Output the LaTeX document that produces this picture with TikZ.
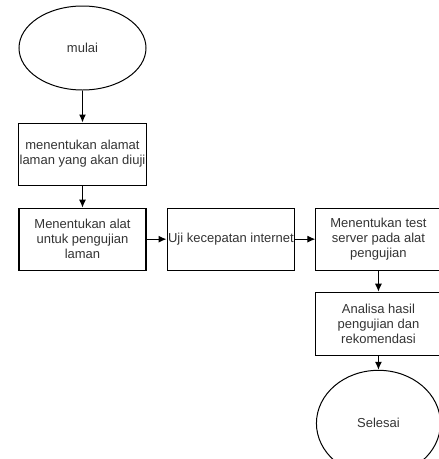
\documentclass[tikz,border=0pt]{standalone}
\usepackage{fontspec}
\setmainfont{Liberation Sans}
\usetikzlibrary{positioning,shapes.geometric,arrows.meta}

\begin{document}
\begin{tikzpicture}[x=1pt,y=-1pt]
\tikzstyle{term}=[ellipse, draw=black, line width=1pt, minimum width=127pt, minimum height=84pt, inner sep=0pt, font=\fontsize{13}{15}\selectfont, text=black!80]
\tikzstyle{proc}=[rectangle, draw=black, line width=1.1pt, minimum width=127pt, minimum height=62pt, inner sep=1pt, align=center, font=\fontsize{13}{15}\selectfont, text=black!80]
\tikzstyle{connect}=[-{Latex[length=8pt,width=7pt]}, line width=1.1pt]
  \useasboundingbox (0,0) rectangle (439,459);
  \node[term] (mulai) at (82.5,48) {mulai};
  \node[proc] (alamat) [below=32pt of mulai] {menentukan alamat\\laman yang akan diuji};
  \node[proc] (alat) [below=22pt of alamat] {Menentukan alat\\untuk pengujian\\laman};
  \node[proc] (uji) [right=20pt of alat] {Uji kecepatan internet};
  \node[proc, minimum width=125pt] (server) [right=20pt of uji] {Menentukan test\\server pada alat\\pengujian};
  \node[proc, minimum width=125pt, minimum height=63pt] (analisa) [below=21pt of server] {Analisa hasil\\pengujian dan\\rekomendasi};
  \node[term, minimum width=124pt, minimum height=106pt] (selesai) [below=14pt of analisa] {Selesai};
  \path (mulai) edge[connect] (alamat)
        (alamat) edge[connect] (alat)
        (alat) edge[connect] (uji)
        (uji) edge[connect] (server)
        (server) edge[connect] (analisa)
        (analisa) edge[connect] (selesai)
        ;
\end{tikzpicture}
\end{document}
